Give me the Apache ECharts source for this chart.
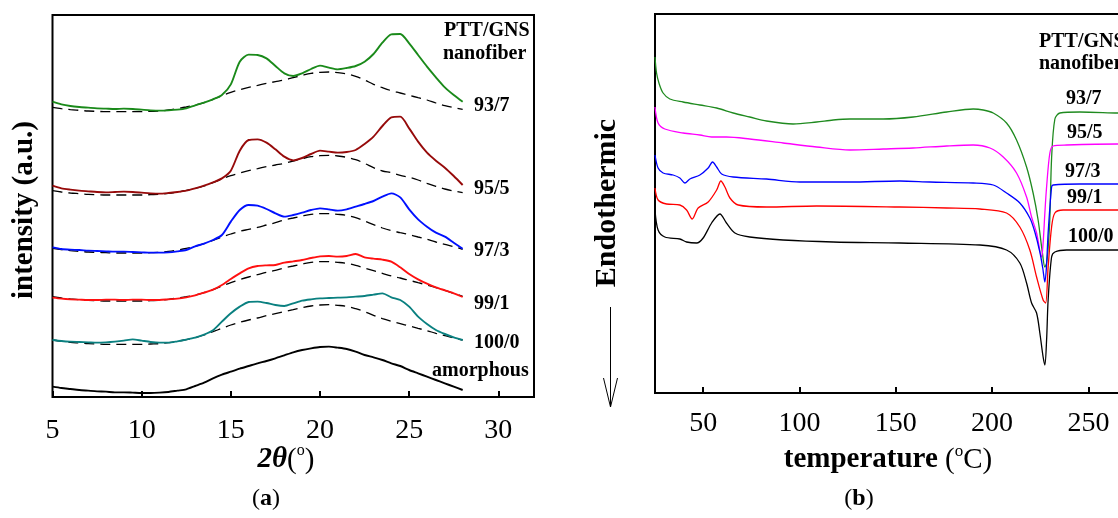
<!DOCTYPE html>
<html>
<head>
<meta charset="utf-8">
<script src="https://cdn.jsdelivr.net/npm/echarts@6/dist/echarts.min.js"></script>
<style>
  html, body { margin: 0; padding: 0; overflow: hidden; background: #fff; }
  #chart { width: 1200px; height: 518px; }
</style>
</head>
<body>
<div id="chart"></div>
<script>
// ---------- (a) XRD patterns: 2θ sampling positions (degrees) ----------
const twoTheta = [5, 5.5, 6, 6.5, 7, 7.5, 8, 8.5, 9, 9.5, 10, 10.5, 11, 11.5, 12, 12.5, 13, 13.5, 14, 14.5,
  15, 15.5, 16, 16.5, 17, 17.5, 18, 18.5, 19, 19.5, 20, 20.5, 21, 21.5, 22, 22.5, 23, 23.5, 24, 24.5,
  25, 25.5, 26, 26.5, 27, 27.5, 28];
const thetaTicks = [5, 10, 15, 20, 25, 30];

// stacked intensities (a.u.), each pattern offset vertically
const xrd93_7 = [886, 878, 873, 870, 868, 866, 865, 864, 865, 864, 862, 860, 859, 860, 862, 866, 875, 883, 893, 906,
  938, 1006, 1027, 1026, 1016, 993, 971, 963, 971, 984, 994, 988, 983, 987, 993, 1006, 1029, 1063, 1088, 1089,
  1061, 1026, 991, 959, 929, 906, 886];
const base93_7 = [869, 865, 862, 860, 858, 857, 856, 856, 856, 856, 856, 857, 858, 861, 865, 870, 876, 883, 893, 904,
  914, 922, 929, 935, 941, 946, 951, 958, 965, 971, 974, 975, 973, 969, 962, 951, 938, 928, 919, 912,
  905, 898, 891, 882, 874, 868, 863];
const xrd95_5 = [634, 626, 622, 619, 617, 615, 614, 615, 616, 615, 613, 611, 610, 612, 615, 619, 626, 634, 644, 656,
  679, 739, 771, 773, 763, 743, 721, 710, 717, 729, 739, 736, 733, 735, 741, 759, 781, 813, 839, 841,
  806, 766, 733, 709, 688, 663, 636];
const base95_5 = [619, 615, 612, 610, 608, 607, 606, 606, 606, 606, 606, 607, 608, 611, 615, 620, 626, 633, 643, 654,
  664, 672, 679, 685, 691, 696, 701, 708, 715, 721, 724, 725, 723, 719, 712, 701, 688, 678, 673, 665,
  659, 651, 641, 632, 624, 618, 613];
const xrd97_3 = [449, 444, 442, 441, 439, 438, 437, 436, 436, 435, 434, 433, 433, 434, 437, 441, 452, 460, 471, 486,
  526, 561, 576, 574, 564, 551, 541, 546, 553, 561, 566, 563, 559, 563, 571, 579, 588, 601, 611, 599,
  563, 533, 511, 493, 481, 463, 445];
const base97_3 = [446, 442, 439, 437, 435, 434, 433, 432, 432, 432, 432, 433, 434, 437, 441, 446, 452, 460, 470, 480,
  489, 497, 503, 509, 516, 523, 531, 537, 543, 548, 550, 550, 548, 545, 538, 528, 517, 507, 499, 493,
  487, 480, 473, 465, 458, 451, 443];
const xrd99_1 = [298, 295, 293, 292, 291, 291, 292, 292, 291, 292, 292, 291, 291, 293, 295, 299, 305, 313, 322, 336,
  354, 371, 386, 393, 395, 396, 403, 407, 411, 417, 422, 423, 421, 423, 429, 419, 415, 412, 406, 389,
  369, 353, 340, 329, 320, 311, 300];
const base99_1 = [301, 297, 294, 292, 290, 289, 288, 288, 288, 288, 288, 289, 290, 293, 297, 301, 306, 313, 322, 333,
  343, 352, 360, 367, 374, 380, 387, 393, 399, 404, 406, 406, 404, 401, 395, 387, 379, 371, 363, 357,
  350, 343, 336, 328, 320, 311, 302];
const xrd100_0 = [171, 168, 166, 165, 164, 163, 164, 166, 169, 173, 169, 165, 163, 163, 167, 172, 178, 187, 200, 226,
  251, 271, 285, 286, 282, 276, 273, 281, 289, 293, 296, 297, 298, 299, 301, 303, 307, 311, 299, 291,
  271, 241, 219, 201, 189, 179, 171];
const base100_0 = [171, 167, 164, 162, 160, 159, 158, 158, 158, 158, 158, 159, 160, 163, 167, 172, 178, 186, 196, 206,
  216, 224, 231, 237, 244, 250, 256, 262, 268, 273, 276, 277, 275, 272, 265, 256, 245, 235, 227, 220,
  213, 206, 199, 191, 184, 177, 171];
const xrdAmorphous = [31, 27, 24, 21, 19, 17, 16, 14, 14, 13, 12, 12, 13, 15, 19, 23, 33, 43, 56, 67,
  76, 85, 93, 101, 108, 116, 125, 134, 141, 146, 150, 151, 148, 144, 136, 126, 119, 111, 101, 93,
  81, 71, 61, 51, 41, 31, 21];

// ---------- (b) DSC heating curves: [temperature (°C), heat flow (a.u., offset)] ----------
const tempTicks = [50, 100, 150, 200, 250, 300];
const dsc93_7 = [[25, 336], [25.8, 320], [27.2, 309], [29.2, 300], [32.7, 294], [39.6, 291], [48.3, 288], [57, 285],
  [65.6, 280], [74.2, 276], [82.9, 272], [96.7, 269], [108.9, 271], [117.5, 273], [126.2, 274], [143.5, 274],
  [159, 276], [176.4, 281], [190.2, 284], [195.4, 283], [200.6, 280], [207.5, 270], [212.7, 253], [217.9, 226],
  [221.3, 200], [223.9, 173], [226, 142], [227.4, 126], [228.3, 130], [229.1, 145], [230, 175], [230.9, 235],
  [232.6, 274], [235.2, 280], [245.6, 281], [265.3, 280], [300, 279]];
const dsc95_5 = [[25, 286], [26.6, 270], [30.1, 264], [39.6, 260], [48.3, 258], [54.4, 256], [62.1, 256], [74.2, 254],
  [91.5, 250], [108.9, 246], [126.2, 243], [143.5, 244], [159, 245], [176.4, 247], [190.2, 248], [198.9, 245],
  [205.8, 236], [212.7, 220], [217.9, 196], [220.5, 176], [223.1, 160], [225.7, 136], [226.5, 150], [227.4, 180],
  [228.3, 206], [230, 240], [231.7, 247], [238.7, 248], [265.3, 249], [300, 249]];
const dsc97_3 = [[25, 238], [26.6, 225], [29.2, 220], [34.4, 218], [37.9, 215], [40.5, 210], [43.1, 214], [48.3, 218],
  [52.6, 225], [54.9, 231], [57, 226], [59.6, 219], [65.6, 216], [82.9, 214], [100.2, 211], [126.2, 211],
  [152.1, 212], [167.7, 211], [190.2, 210], [200.6, 208], [207.5, 200], [214.4, 190], [219.6, 175], [222.2, 161],
  [224.8, 141], [226.3, 125], [227.4, 111], [228.2, 125], [229.1, 160], [230.9, 206], [231.7, 208], [245.6, 209],
  [265.3, 209], [300, 209]];
const dsc99_1 = [[25, 205], [26.6, 193], [31, 189], [37.9, 188], [41.4, 183], [44.3, 174], [47.4, 185], [52.6, 191],
  [57, 203], [59.2, 212], [61.3, 206], [63.9, 195], [68.2, 188], [82.9, 186], [108.9, 187], [152.1, 186],
  [176.4, 185], [193.7, 184], [207.5, 180], [214.4, 166], [219.6, 143], [223.1, 116], [226.5, 93], [227.8, 90],
  [229.1, 126], [230.9, 166], [232.6, 180], [236.9, 183], [265.3, 183], [300, 183]];
const dsc100_0 = [[25, 183], [26.6, 163], [30.1, 156], [37.9, 154], [41.4, 151], [46.6, 150], [50, 155], [54.4, 170],
  [58.7, 179], [62.1, 170], [66.5, 160], [74.2, 156], [91.5, 153], [117.5, 151], [152.1, 150], [193.7, 148],
  [207.5, 143], [214.4, 130], [217.9, 110], [220.5, 90], [223.1, 80], [224.8, 60], [226.5, 36], [227.4, 28],
  [228.3, 53], [229.1, 93], [230.9, 136], [232.6, 141], [238.7, 143], [265.3, 143], [300, 143]];

// ---------- styling ----------
const SERIF = "'Liberation Serif', 'Times New Roman', serif";

function pair(xs, ys) { return xs.map((x, i) => [x, ys[i]]); }

function xrdLine(name, values, color) {
  return {
    name, type: 'line', xAxisIndex: 0, yAxisIndex: 0, data: pair(twoTheta, values),
    showSymbol: false, smooth: 0.25, silent: true, z: 3,
    lineStyle: { color, width: 1.9 }
  };
}
function xrdBase(name, values) {
  return {
    name, type: 'line', xAxisIndex: 0, yAxisIndex: 0, data: pair(twoTheta, values),
    showSymbol: false, smooth: 0.35, silent: true, z: 2,
    lineStyle: { color: '#000', width: 1.3, type: [10, 6] }
  };
}
function dscLine(name, data, color) {
  return {
    name, type: 'line', xAxisIndex: 1, yAxisIndex: 1, data,
    showSymbol: false, smooth: 0.3, silent: true,
    lineStyle: { color, width: 1.3 }
  };
}

function label(x, y, text, extra) {
  return {
    type: 'text', x, y, silent: true,
    style: Object.assign({
      text, fontFamily: SERIF, fontSize: 20, fontWeight: 'bold', fill: '#000',
      align: 'left', verticalAlign: 'middle'
    }, extra || {})
  };
}
function verticalTitle(x, y, text, size) {
  return {
    type: 'text', x, y, rotation: Math.PI / 2, silent: true,
    style: { text, fontFamily: SERIF, fontSize: size, fontWeight: 'bold', fill: '#000',
      align: 'center', verticalAlign: 'middle' }
  };
}

const axisCommon = {
  axisLine: { show: false },
  splitLine: { show: false },
  axisTick: { show: true, inside: true, length: 6, lineStyle: { color: '#000', width: 2 } },
  axisLabel: { color: '#000', fontFamily: SERIF, fontSize: 28 }
};

const chart = echarts.init(document.getElementById('chart'), null, { renderer: 'canvas' });

chart.setOption({
  animation: false,
  backgroundColor: '#fff',
  grid: [
    { left: 52.5, top: 15, width: 481.5, height: 382, show: true, borderColor: '#000', borderWidth: 2,
      backgroundColor: 'transparent', outerBoundsMode: 'none' },
    { left: 655, top: 14, width: 529.7, height: 379, show: true, borderColor: '#000', borderWidth: 2,
      backgroundColor: 'transparent', outerBoundsMode: 'none' }
  ],
  xAxis: [
    Object.assign({}, axisCommon, {
      type: 'value', gridIndex: 0, min: 5, max: 32,
      axisTick: Object.assign({}, axisCommon.axisTick, { customValues: thetaTicks }),
      axisLabel: Object.assign({}, axisCommon.axisLabel, { margin: 20, customValues: thetaTicks })
    }),
    Object.assign({}, axisCommon, {
      type: 'value', gridIndex: 1, min: 25, max: 300,
      axisTick: Object.assign({}, axisCommon.axisTick, { customValues: tempTicks }),
      axisLabel: Object.assign({}, axisCommon.axisLabel, { margin: 17, customValues: tempTicks })
    })
  ],
  yAxis: [
    { type: 'value', gridIndex: 0, min: 0, max: 1146, show: false },
    { type: 'value', gridIndex: 1, min: 0, max: 379, show: false }
  ],
  series: [
    xrdBase('93/7 baseline', base93_7),
    xrdBase('95/5 baseline', base95_5),
    xrdBase('97/3 baseline', base97_3),
    xrdBase('99/1 baseline', base99_1),
    xrdBase('100/0 baseline', base100_0),
    xrdLine('93/7', xrd93_7, '#1a8a1a'),
    xrdLine('95/5', xrd95_5, '#960a0a'),
    xrdLine('97/3', xrd97_3, '#0010ff'),
    xrdLine('99/1', xrd99_1, '#ff1010'),
    xrdLine('100/0', xrd100_0, '#0a8080'),
    xrdLine('amorphous', xrdAmorphous, '#000000'),
    dscLine('93/7', dsc93_7, '#1f8a1f'),
    dscLine('95/5', dsc95_5, '#ff00ff'),
    dscLine('97/3', dsc97_3, '#0000ff'),
    dscLine('99/1', dsc99_1, '#ff0000'),
    dscLine('100/0', dsc100_0, '#000000')
  ],
  graphic: [
    // sample labels, panel (a)
    label(444, 31, 'PTT/GNS'),
    label(443, 54, 'nanofiber'),
    label(474, 106, '93/7'),
    label(474, 189, '95/5'),
    label(474, 251, '97/3'),
    label(474, 304, '99/1'),
    label(474, 343, '100/0'),
    label(432, 371, 'amorphous'),
    // sample labels, panel (b)
    label(1039, 42, 'PTT/GNS'),
    label(1039, 64, 'nanofiber'),
    label(1066, 99, '93/7'),
    label(1067, 133, '95/5'),
    label(1065, 172, '97/3'),
    label(1067, 198, '99/1'),
    label(1068, 237, '100/0'),
    // axis titles
    verticalTitle(25, 210, 'intensity (a.u.)', 29),
    verticalTitle(607, 203, 'Endothermic', 30),
    label(286, 460, '{t|2θ}{p|(}{s|o}{p|)}', {
      align: 'center', fontSize: 29, fontWeight: 'normal',
      rich: {
        t: { fontFamily: SERIF, fontSize: 29, fontWeight: 'bold', fontStyle: 'italic', lineHeight: 34 },
        p: { fontFamily: SERIF, fontSize: 29, lineHeight: 34 },
        s: { fontFamily: SERIF, fontSize: 16, verticalAlign: 'top', lineHeight: 16 }
      }
    }),
    label(888, 460, '{t|temperature}{p| (}{s|o}{p|C)}', {
      align: 'center', fontSize: 29, fontWeight: 'normal',
      rich: {
        t: { fontFamily: SERIF, fontSize: 29, fontWeight: 'bold', lineHeight: 34 },
        p: { fontFamily: SERIF, fontSize: 29, lineHeight: 34 },
        s: { fontFamily: SERIF, fontSize: 17, verticalAlign: 'top', lineHeight: 17 }
      }
    }),
    // panel letters
    label(266, 499, '{p|(}{b|a}{p|)}', {
      align: 'center', fontWeight: 'normal',
      rich: { p: { fontFamily: SERIF, fontSize: 24 }, b: { fontFamily: SERIF, fontSize: 24, fontWeight: 'bold' } }
    }),
    label(859, 499, '{p|(}{b|b}{p|)}', {
      align: 'center', fontWeight: 'normal',
      rich: { p: { fontFamily: SERIF, fontSize: 24 }, b: { fontFamily: SERIF, fontSize: 24, fontWeight: 'bold' } }
    }),
    // endothermic direction arrow
    { type: 'line', silent: true, shape: { x1: 610.5, y1: 307, x2: 610.5, y2: 407 },
      style: { stroke: '#000', lineWidth: 1 } },
    { type: 'polyline', silent: true, shape: { points: [[603.5, 378], [610.5, 407], [617.5, 378]] },
      style: { stroke: '#000', lineWidth: 1, fill: null } }
  ]
});
</script>
</body>
</html>
